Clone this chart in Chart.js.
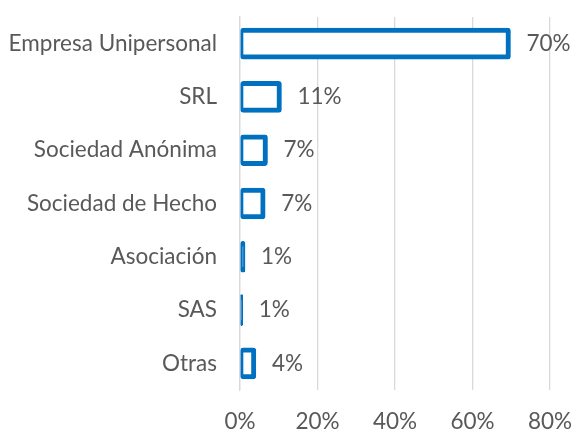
<!DOCTYPE html>
<html>
<head>
<meta charset="utf-8">
<title>Tipo societario</title>
<script src="https://cdn.jsdelivr.net/npm/chart.js@4.4.1/dist/chart.umd.min.js"></script>
<style>
    html, body { margin: 0; padding: 0; background: #ffffff; }
    #wrap { width: 573px; height: 429px; }
</style>
</head>
<body>
<div id="wrap"><canvas id="tipoChart" width="573" height="429"></canvas></div>
<script>
// Data
const categories = ['Empresa Unipersonal', 'SRL', 'Sociedad Anónima', 'Sociedad de Hecho', 'Asociación', 'SAS', 'Otras'];
const shares = [69.8, 10.7, 7.1, 6.5, 1.3, 0.7, 4.1];
const xTicks = [0, 20, 40, 60, 80];

const textColor = '#595959';
const barColor = '#0070C0';
const gridColor = '#D9D9D9';
const fontFamily = 'Lato, "Noto Sans", sans-serif';

Chart.defaults.font.family = fontFamily;
Chart.defaults.font.size = 22.5;
Chart.defaults.color = textColor;

// Value labels to the right of each bar
const barLabels = {
    id: 'barLabels',
    afterDatasetsDraw(chart) {
        const ctx = chart.ctx;
        const meta = chart.getDatasetMeta(0);
        ctx.save();
        ctx.font = '22.5px ' + fontFamily;
        ctx.fillStyle = textColor;
        ctx.textAlign = 'left';
        ctx.textBaseline = 'middle';
        meta.data.forEach((bar, i) => {
            ctx.fillText(Math.round(shares[i]) + '%', bar.x + 16, bar.y);
        });
        ctx.restore();
    }
};

new Chart(document.getElementById('tipoChart'), {
    type: 'bar',
    data: {
        labels: categories,
        datasets: [{
            data: shares,
            // very short bars are all border in the original, so fill them
            backgroundColor: (ctx) => (ctx.raw < 2 ? barColor : '#ffffff'),
            borderColor: barColor,
            borderWidth: { top: 5, right: 5, bottom: 5, left: 3 },
            borderSkipped: false,
            borderRadius: 3,
            barThickness: 31
        }]
    },
    options: {
        indexAxis: 'y',
        responsive: false,
        animation: false,
        devicePixelRatio: 1,
        layout: { padding: { top: 17, right: 23, bottom: 0, left: 0 } },
        plugins: {
            legend: { display: false },
            tooltip: { enabled: false }
        },
        scales: {
            x: {
                min: 0,
                max: 80,
                afterBuildTicks: (scale) => {
                    scale.ticks = xTicks.map(v => ({ value: v }));
                },
                afterFit: (scale) => {
                    scale.height = 39;
                    scale.paddingLeft = 0;
                    scale.paddingRight = 0;
                },
                grid: { color: gridColor, lineWidth: 1.3, drawTicks: false },
                border: { display: false },
                ticks: {
                    padding: 18,
                    maxRotation: 0,
                    callback: (v) => v + '%'
                }
            },
            y: {
                afterFit: (scale) => {
                    scale.width = 240;
                    scale.paddingTop = 0;
                    scale.paddingBottom = 0;
                },
                grid: { display: false, drawTicks: false },
                border: { display: true, color: gridColor, width: 1.3 },
                ticks: { padding: 23 }
            }
        }
    },
    plugins: [barLabels]
});
</script>
</body>
</html>
